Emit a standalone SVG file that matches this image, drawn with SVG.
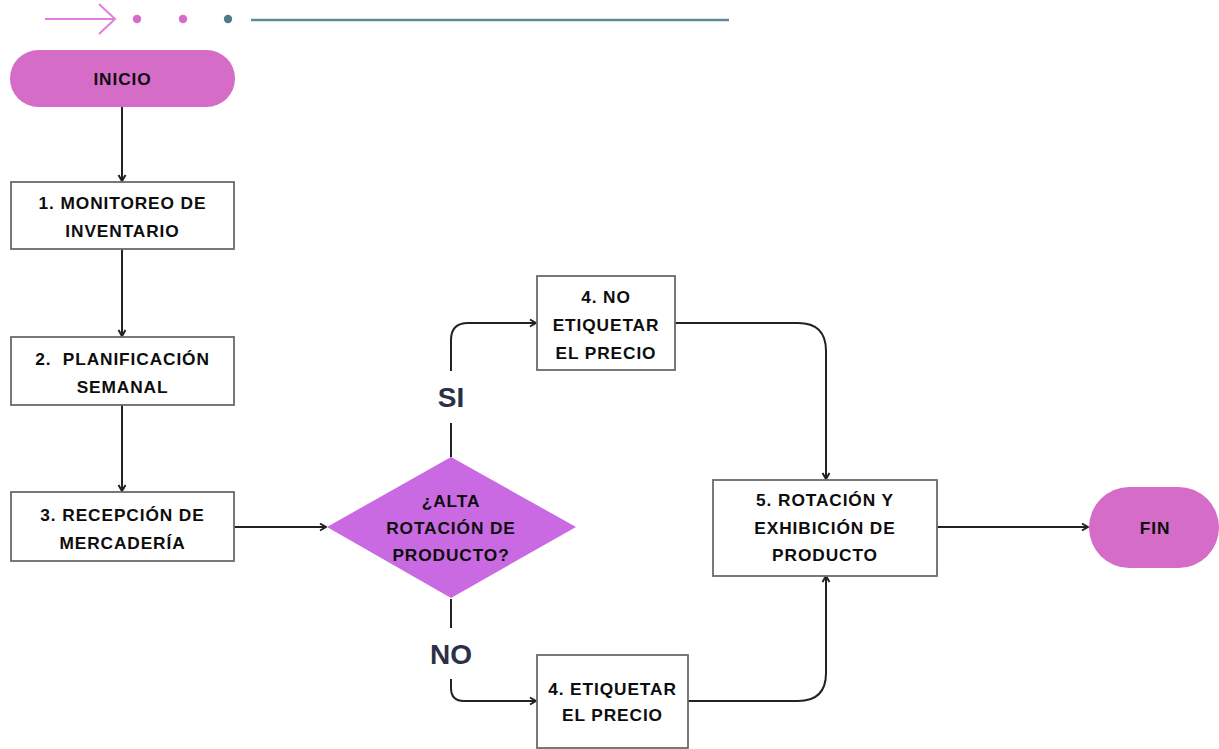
<svg xmlns="http://www.w3.org/2000/svg" width="1219" height="749" viewBox="0 0 1219 749">
  <style>
    .box { fill: #ffffff; stroke: #6a6a6a; stroke-width: 1.8; }
    .pill { fill: #d46cc8; }
    .diamond { fill: #c96ae2; }
    .lbl { font-family: "Liberation Sans", Arial, sans-serif; font-weight: bold; font-size: 17.3px; letter-spacing: 0.9px; fill: #0d0d0d; text-anchor: middle; }
    .branch { font-family: "Liberation Sans", Arial, sans-serif; font-weight: bold; font-size: 28px; fill: #2b3046; text-anchor: middle; }
    .conn { fill: none; stroke: #222222; stroke-width: 2; }
  </style>
  <defs>
    <marker id="arrow" viewBox="0 0 10 10" refX="9" refY="5" markerWidth="10" markerHeight="10" markerUnits="userSpaceOnUse" orient="auto">
      <path d="M3 1.5 L9 5 L3 8.5" fill="none" stroke="#222222" stroke-width="2"/>
    </marker>
  </defs>

  <!-- decorative header -->
  <g id="header">
    <line x1="45" y1="19" x2="114" y2="19" stroke="#e27fd8" stroke-width="2"/>
    <polyline points="99,4 115,19 99,34" fill="none" stroke="#e27fd8" stroke-width="2"/>
    <circle cx="137" cy="19" r="4.2" fill="#d46cc8"/>
    <circle cx="183" cy="19" r="4.2" fill="#d46cc8"/>
    <circle cx="228" cy="19" r="4.2" fill="#4d7c88"/>
    <line x1="251" y1="20" x2="729" y2="20" stroke="#5d8b99" stroke-width="2.5"/>
  </g>

  <!-- connectors -->
  <g id="connectors">
    <path class="conn" d="M122 107 V181" marker-end="url(#arrow)"/>
    <path class="conn" d="M122 249 V336" marker-end="url(#arrow)"/>
    <path class="conn" d="M122 405 V491" marker-end="url(#arrow)"/>
    <path class="conn" d="M234 527 H326" marker-end="url(#arrow)"/>
    <path class="conn" d="M451 457 V423"/>
    <path class="conn" d="M451 371 V340 Q451 323 468 323 H536" marker-end="url(#arrow)"/>
    <path class="conn" d="M451 599 V628"/>
    <path class="conn" d="M451 679 V688 Q451 701 464 701 H536" marker-end="url(#arrow)"/>
    <path class="conn" d="M675 323 H798 Q826 323 826 351 V479" marker-end="url(#arrow)"/>
    <path class="conn" d="M688 701 H798 Q826 701 826 673 V576" marker-end="url(#arrow)"/>
    <path class="conn" d="M937 527 H1088" marker-end="url(#arrow)"/>
  </g>

  <g id="inicio">
    <rect class="pill" x="10" y="50" width="225" height="57" rx="28.5"/>
    <text class="lbl" x="122.5" y="84.5">INICIO</text>
  </g>

  <g id="paso1">
    <rect class="box" x="11" y="182" width="223" height="67"/>
    <text class="lbl" x="122.5" y="208.5">1. MONITOREO DE</text>
    <text class="lbl" x="122.5" y="236.5">INVENTARIO</text>
  </g>

  <g id="paso2">
    <rect class="box" x="11" y="337" width="223" height="68"/>
    <text class="lbl" x="122.5" y="364.5" xml:space="preserve">2.  PLANIFICACIÓN</text>
    <text class="lbl" x="122.5" y="392.5">SEMANAL</text>
  </g>

  <g id="paso3">
    <rect class="box" x="11" y="492" width="223" height="69"/>
    <text class="lbl" x="122.5" y="520.5">3. RECEPCIÓN DE</text>
    <text class="lbl" x="122.5" y="548.5">MERCADERÍA</text>
  </g>

  <g id="decision">
    <polygon class="diamond" points="327,527 451,457 576,527 451,598"/>
    <text class="lbl" x="451" y="506.5">¿ALTA</text>
    <text class="lbl" x="451" y="533.5">ROTACIÓN DE</text>
    <text class="lbl" x="451" y="560.5">PRODUCTO?</text>
  </g>

  <g id="etiqueta-si">
    <text class="branch" x="451" y="407">SI</text>
  </g>
  <g id="etiqueta-no">
    <text class="branch" x="451" y="664">NO</text>
  </g>

  <g id="paso4-no-etiquetar">
    <rect class="box" x="537" y="276" width="138" height="94"/>
    <text class="lbl" x="606" y="302.5">4. NO</text>
    <text class="lbl" x="606" y="331">ETIQUETAR</text>
    <text class="lbl" x="606" y="358.5">EL PRECIO</text>
  </g>

  <g id="paso4-etiquetar">
    <rect class="box" x="537" y="655" width="151" height="93"/>
    <text class="lbl" x="612.5" y="694.5">4. ETIQUETAR</text>
    <text class="lbl" x="612.5" y="720.5">EL PRECIO</text>
  </g>

  <g id="paso5">
    <rect class="box" x="713" y="480" width="224" height="96"/>
    <text class="lbl" x="825" y="505.5">5. ROTACIÓN Y</text>
    <text class="lbl" x="825" y="533.5">EXHIBICIÓN DE</text>
    <text class="lbl" x="825" y="560.5">PRODUCTO</text>
  </g>

  <g id="fin">
    <rect class="pill" x="1089" y="487" width="130" height="81" rx="40.5"/>
    <text class="lbl" x="1155" y="533.5">FIN</text>
  </g>
</svg>
